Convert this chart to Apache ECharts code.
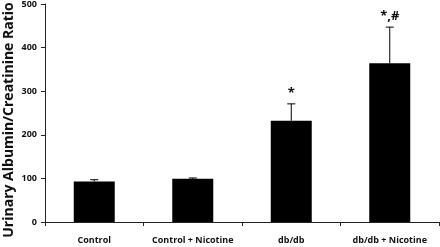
<!DOCTYPE html>
<html>
<head>
<meta charset="utf-8">
<script src="https://cdn.jsdelivr.net/npm/echarts@6/dist/echarts.min.js"></script>
<style>
  html, body { margin: 0; padding: 0; background: #fff; }
  #chart { width: 440px; height: 247px; }
</style>
</head>
<body>
<div id="chart"></div>
<script>
// groups and values
var groups = ['Control', 'Control + Nicotine', 'db/db', 'db/db + Nicotine'];
var ratio = [93, 99, 232, 364];
var errUpper = [97, 101, 271, 447];
var marks = ['', '', '*', '*,#'];
var yTicks = [0, 100, 200, 300, 400, 500];
var yTitle = 'Urinary Albumin/Creatinine Ratio';

var chart = echarts.init(document.getElementById('chart'));
var font = '"Open Sans", "Liberation Sans", sans-serif';

var option = {
  animation: false,
  grid: { left: 45, right: 1, top: 4, bottom: 25, outerBoundsMode: 'none', containLabel: false },
  // y title sits a bit below the plot centre in the original, so place it by hand
  graphic: [{
    type: 'text',
    x: 9, y: 120,
    rotation: Math.PI / 2,
    style: {
      text: yTitle, align: 'center', verticalAlign: 'middle',
      fontFamily: font, fontWeight: 'bold', fontSize: 14, fill: '#111'
    }
  }],
  xAxis: {
    type: 'category',
    data: groups,
    axisLine: { lineStyle: { color: '#222', width: 1 } },
    axisTick: { show: true, alignWithLabel: false, length: 4, lineStyle: { color: '#222' } },
    axisLabel: {
      interval: 0, hideOverlap: false,
      color: '#111', fontFamily: font, fontWeight: 'bold', fontSize: 9, margin: 14
    }
  },
  yAxis: {
    type: 'value',
    min: yTicks[0],
    max: yTicks[yTicks.length - 1],
    interval: 100,
    axisLine: { show: true, lineStyle: { color: '#222', width: 1 } },
    axisTick: { show: true, length: 4, lineStyle: { color: '#222' } },
    splitLine: { show: false },
    axisLabel: { color: '#111', fontFamily: font, fontWeight: 'bold', fontSize: 9, margin: 8 }
  },
  series: [
    {
      type: 'bar',
      data: ratio,
      barWidth: 41,
      itemStyle: { color: '#000' }
    },
    {
      type: 'custom',
      data: errUpper.map(function (v, i) { return [i, ratio[i], v]; }),
      renderItem: function (params, api) {
        var i = api.value(0);
        var base = api.coord([i, api.value(1)]);
        var top = api.coord([i, api.value(2)]);
        var cap = 4;
        var children = [
          { type: 'line', shape: { x1: base[0], y1: base[1], x2: top[0], y2: top[1] }, style: { stroke: '#000', lineWidth: 1 } },
          { type: 'line', shape: { x1: top[0] - cap, y1: top[1], x2: top[0] + cap, y2: top[1] }, style: { stroke: '#000', lineWidth: 1 } }
        ];
        var m = marks[params.dataIndex];
        if (m) {
          children.push({
            type: 'text',
            style: {
              text: m, x: top[0], y: top[1] - 4,
              align: 'center', verticalAlign: 'bottom',
              fontFamily: font, fontWeight: 'bold', fontSize: 13, fill: '#111'
            }
          });
        }
        return { type: 'group', children: children };
      },
      z: 3
    }
  ]
};

chart.setOption(option);
</script>
</body>
</html>
